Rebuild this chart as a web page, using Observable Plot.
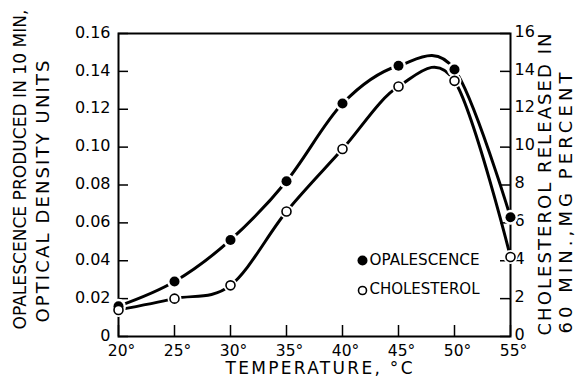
<!DOCTYPE html>
<html><head><meta charset="utf-8">
<script src="https://cdn.jsdelivr.net/npm/d3@7"></script>
<script src="https://cdn.jsdelivr.net/npm/@observablehq/plot@0.6"></script>
<style>html,body{margin:0;padding:0;background:#fff}</style>
</head><body><div id="chart"></div>
<script>
const temps = [20, 25, 30, 35, 40, 45, 50, 55];
const opalescence = [0.016, 0.029, 0.051, 0.082, 0.123, 0.143, 0.141, 0.063];
const cholesterol = [1.4, 2.0, 2.7, 6.6, 9.9, 13.2, 13.5, 4.2];
const xTicks = [20, 25, 30, 35, 40, 45, 50, 55];
const leftTicks = [0, 0.02, 0.04, 0.06, 0.08, 0.10, 0.12, 0.14, 0.16];
const rightTicks = [0, 2, 4, 6, 8, 10, 12, 14, 16];
const leftTitle = ["OPALESCENCE PRODUCED IN 10 MIN,", "OPTICAL DENSITY UNITS"];
const rightTitle = ["CHOLESTEROL RELEASED IN", "60 MIN.,MG PERCENT"];
const xTitle = "TEMPERATURE, °C";
const legendLabels = ["OPALESCENCE", "CHOLESTEROL"];

// right axis (0–16) shares the plot area with left axis (0–0.16)
const toLeft = v => v / 100;
const opData = temps.map((t, i) => ({t, v: opalescence[i]}));
const chData = temps.map((t, i) => ({t, v: toLeft(cholesterol[i])}));
const curve = "cardinal";

const chart = Plot.plot({
  width: 585, height: 383,
  marginLeft: 118, marginRight: 75, marginTop: 33, marginBottom: 47,
  style: {fontFamily: "DejaVu Sans", background: "white", color: "black"},
  x: {domain: [20, 55]},
  y: {domain: [0, 0.16]},
  marks: [
    // inward tick marks
    Plot.ruleX(xTicks, {x: d => d, insetTop: 292, strokeWidth: 1.5}),
    Plot.ruleY(leftTicks, {y: d => d, insetRight: 382, strokeWidth: 1.5}),
    Plot.ruleY(rightTicks.map(toLeft), {y: d => d, insetLeft: 382, strokeWidth: 1.5}),
    Plot.axisX(xTicks, {tickSize: 0, tickPadding: 8, dx: 3, tickFormat: d => `${d}°`, fontSize: 15.5, label: null}),
    Plot.axisY(leftTicks, {anchor: "left", tickSize: 0, tickPadding: 8, dy: -1, tickFormat: d => d === 0 ? "0" : d.toFixed(2), fontSize: 16, label: null}),
    Plot.axisY(rightTicks.map(toLeft), {anchor: "right", tickSize: 0, tickPadding: 4, dy: -2, tickFormat: d => String(Math.round(d * 100)), fontSize: 16, label: null}),
    Plot.frame({strokeWidth: 2}),
    Plot.line(opData, {x: "t", y: "v", curve, tension: 0, strokeWidth: 3}),
    Plot.line(chData, {x: "t", y: "v", curve, tension: 0, strokeWidth: 3}),
    Plot.dot(opData, {x: "t", y: "v", r: 7.5, fill: "white"}),
    Plot.dot(chData, {x: "t", y: "v", r: 7, fill: "white"}),
    Plot.dot(opData, {x: "t", y: "v", r: 5, fill: "black"}),
    Plot.dot(chData, {x: "t", y: "v", r: 4.5, fill: "white", stroke: "black", strokeWidth: 1.6}),
    // legend
    Plot.dot([legendLabels[0]], {frameAnchor: "bottom-right", dx: -148, dy: -76, r: 5, fill: "black"}),
    Plot.dot([legendLabels[1]], {frameAnchor: "bottom-right", dx: -148, dy: -46, r: 4, fill: "white", stroke: "black", strokeWidth: 1.6}),
    Plot.text([legendLabels[0]], {text: d => d, frameAnchor: "bottom-right", dx: -141, dy: -72, textAnchor: "start", fontSize: 16}),
    Plot.text([legendLabels[1]], {text: d => d, frameAnchor: "bottom-right", dx: -141, dy: -43, textAnchor: "start", fontSize: 16}),
    // titles
    Plot.text([leftTitle[0]], {text: d => d, frameAnchor: "bottom-left", rotate: -90, textAnchor: "start", dx: -93, dy: -7, fontSize: 17}),
    Plot.text([leftTitle[1]], {text: d => d, frameAnchor: "bottom-left", rotate: -90, textAnchor: "start", dx: -70, dy: -14, fontSize: 18}),
    Plot.text([rightTitle[0]], {text: d => d, frameAnchor: "bottom-right", rotate: -90, textAnchor: "start", dx: 40, dy: -1, fontSize: 18}),
    Plot.text([rightTitle[1]], {text: d => d, frameAnchor: "bottom-right", rotate: -90, textAnchor: "start", dx: 61, dy: -3, fontSize: 18}),
    Plot.text([xTitle], {text: d => d, frameAnchor: "bottom", dx: 4.5, dy: 37.5, fontSize: 17})
  ]
});
document.getElementById("chart").appendChild(chart);
const lengths = new Map([
  [leftTitle[0], 320], [leftTitle[1], 262], [rightTitle[0], 302], [rightTitle[1], 261],
  [xTitle, 187], [legendLabels[0], 110], [legendLabels[1], 110]
]);
d3.select(chart).selectAll("text").each(function () {
  const L = lengths.get(this.textContent);
  if (!L) return;
  const natural = this.getComputedTextLength();
  this.setAttribute("textLength", L);
  this.setAttribute("lengthAdjust", natural > L ? "spacingAndGlyphs" : "spacing");
});
</script></body></html>
